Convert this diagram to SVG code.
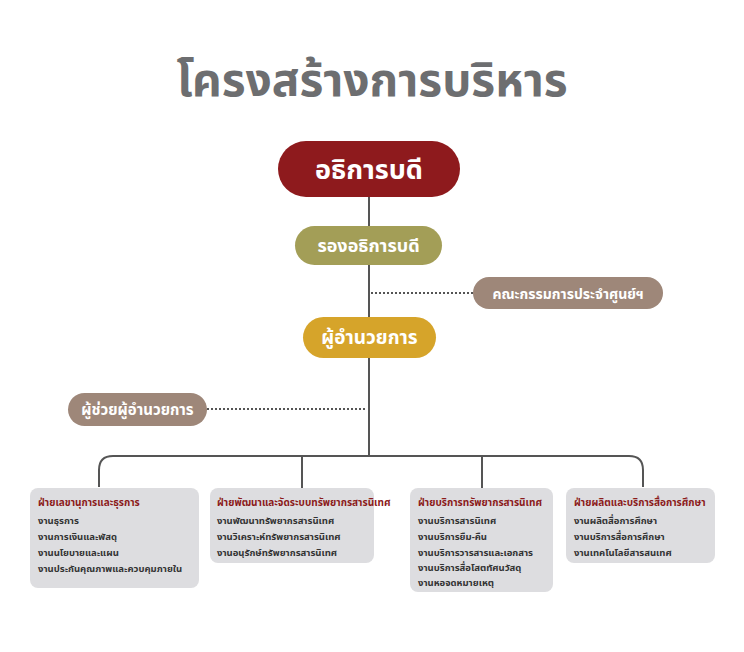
<svg xmlns="http://www.w3.org/2000/svg" width="744" height="652" viewBox="0 0 744 652">
<style>
text{font-family:"Noto Sans Thai","Noto Sans","DejaVu Sans",sans-serif;font-weight:bold}
.pill{fill:#fff;text-anchor:middle}
.box{fill:#dddde0}
.h{fill:#8b1a1a;font-size:10px}
.i{fill:#333;font-size:9.5px}
.ln{stroke:#555;stroke-width:2;fill:none}
.dot{stroke:#555;stroke-width:2;stroke-dasharray:2 2;fill:none}
</style>
<rect width="744" height="652" fill="#fff"/>
<text x="372" y="96" font-size="46" fill="#6d6e70" text-anchor="middle">โครงสร้างการบริหาร</text>
<g id="connectors">
<line class="ln" x1="369" y1="197" x2="369" y2="456"/>
<path class="ln" d="M99,487 V470 Q99,456 113,456 H629 Q643,456 643,470 V487"/>
<line class="ln" x1="302" y1="456" x2="302" y2="488"/>
<line class="ln" x1="482" y1="456" x2="482" y2="488"/>
<line class="dot" x1="371" y1="293" x2="473" y2="293"/>
<line class="dot" x1="207" y1="409" x2="366" y2="409"/>
</g>
<g id="president"><rect x="278" y="141" width="182" height="56" rx="28" fill="#8e1a1d"/><text class="pill" x="369" y="179" font-size="27">อธิการบดี</text></g>
<g id="vice"><rect x="295" y="226" width="147" height="39" rx="19.5" fill="#a39e57"/><text class="pill" x="368.5" y="252" font-size="18">รองอธิการบดี</text></g>
<g id="committee"><rect x="473" y="277" width="190" height="32" rx="16" fill="#9e8779"/><text class="pill" x="568" y="299" font-size="14">คณะกรรมการประจำศูนย์ฯ</text></g>
<g id="director"><rect x="303" y="317" width="133" height="41" rx="20.5" fill="#d6a42a"/><text class="pill" x="369.5" y="344" font-size="19">ผู้อำนวยการ</text></g>
<g id="assistant"><rect x="68" y="393" width="139" height="33" rx="16.5" fill="#9e8779"/><text class="pill" x="137.5" y="415" font-size="15">ผู้ช่วยผู้อำนวยการ</text></g>
<g id="dept1"><rect class="box" x="30" y="488" width="169" height="100" rx="8"/>
<text class="h" x="38" y="506">ฝ่ายเลขานุการและธุรการ</text>
<text class="i" x="38" y="524">งานธุรการ</text><text class="i" x="38" y="540">งานการเงินและพัสดุ</text><text class="i" x="38" y="556">งานนโยบายและแผน</text><text class="i" x="38" y="572">งานประกันคุณภาพและควบคุมภายใน</text></g>
<g id="dept2"><rect class="box" x="210" y="488" width="164" height="75" rx="8"/>
<text class="h" x="217" y="506">ฝ่ายพัฒนาและจัดระบบทรัพยากรสารนิเทศ</text>
<text class="i" x="217" y="524">งานพัฒนาทรัพยากรสารนิเทศ</text><text class="i" x="217" y="540">งานวิเคราะห์ทรัพยากรสารนิเทศ</text><text class="i" x="217" y="556">งานอนุรักษ์ทรัพยากรสารนิเทศ</text></g>
<g id="dept3"><rect class="box" x="410" y="488" width="143" height="104" rx="8"/>
<text class="h" x="418" y="506">ฝ่ายบริการทรัพยากรสารนิเทศ</text>
<text class="i" x="418" y="524">งานบริการสารนิเทศ</text><text class="i" x="418" y="540">งานบริการยืม-คืน</text><text class="i" x="418" y="556">งานบริการวารสารและเอกสาร</text><text class="i" x="418" y="571">งานบริการสื่อโสตทัศนวัสดุ</text><text class="i" x="418" y="586">งานหอจดหมายเหตุ</text></g>
<g id="dept4"><rect class="box" x="566" y="488" width="149" height="75" rx="8"/>
<text class="h" x="574" y="506">ฝ่ายผลิตและบริการสื่อการศึกษา</text>
<text class="i" x="574" y="524">งานผลิตสื่อการศึกษา</text><text class="i" x="574" y="540">งานบริการสื่อการศึกษา</text><text class="i" x="574" y="556">งานเทคโนโลยีสารสนเทศ</text></g>
</svg>
